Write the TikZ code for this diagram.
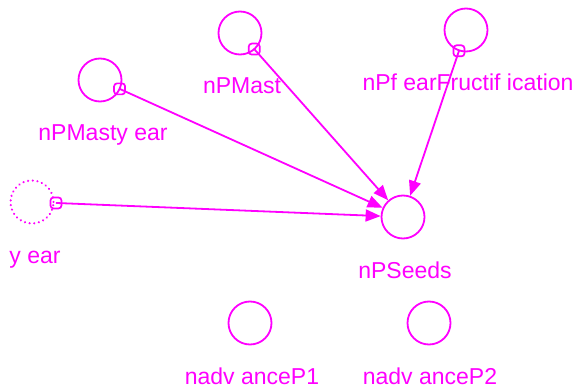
\documentclass[tikz,border=0pt]{standalone}
\usepackage{fontspec}
\setmainfont{Liberation Sans}
\usepackage{xcolor}
\definecolor{simmagenta}{RGB}{255,0,255}
\usetikzlibrary{arrows.meta, calc}

\begin{document}
\begin{tikzpicture}[x=1pt, y=-1pt,
  stock/.style={circle, draw=simmagenta, line width=1.8pt, minimum size=43pt, inner sep=0pt},
  ghost/.style={stock, dash pattern=on 0.1pt off 4.6pt, line cap=round, line width=2.3pt},
  lbl/.style={text=simmagenta, font=\fontsize{23}{27}\selectfont, anchor=base, inner sep=0pt},
  tap/.style={rectangle, draw=simmagenta, line width=1.7pt, rounded corners=3pt,
              minimum size=11pt, inner sep=0pt},
  flow/.style={draw=simmagenta, line width=1.8pt, -{Triangle[length=15pt, width=12pt]}}]
  \useasboundingbox (0,0) rectangle (578,390);

  % Variables
  \node[stock] (mast)     at (240,33)  {};
  \node[stock] (mastyear) at (100,80)  {};
  \node[stock] (fearfr)   at (466,30)  {};
  \node[ghost] (year)     at (32,202)  {};
  \node[stock] (seeds)    at (403,217) {};
  \node[stock] (advP1)    at (250,323) {};
  \node[stock] (advP2)    at (429,323) {};

  % Labels
  \node[lbl] (mastL)     at ([xshift=2pt,yshift=-61pt]mast.center)     {nPMast};
  \node[lbl] (mastyearL) at ([xshift=3pt,yshift=-61pt]mastyear.center) {nPMasty ear};
  \node[lbl] (fearfrL)   at ([xshift=2pt,yshift=-61pt]fearfr.center)   {nPf earFructif ication};
  \node[lbl] (yearL)     at ([xshift=3pt,yshift=-61pt]year.center)     {y ear};
  \node[lbl] (seedsL)    at ([xshift=2pt,yshift=-61pt]seeds.center)    {nPSeeds};
  \node[lbl] (advP1L)    at ([xshift=2pt,yshift=-61pt]advP1.center)    {nadv anceP1};
  \node[lbl] (advP2L)    at ([xshift=1pt,yshift=-61pt]advP2.center)    {nadv anceP2};

  % Taps on the source circles
  \node[tap] (tapM)  at ($(mast)!21.5pt!(seeds)$)     {};
  \node[tap] (tapMY) at ($(mastyear)!21.5pt!(seeds)$) {};
  \node[tap] (tapF)  at ($(fearfr)!22pt!(seeds)$)     {};
  \node[tap] (tapY)  at ($(year)!24pt!(seeds)$)       {};

  % Links into nPSeeds
  \draw[flow] (tapM.center)  -- (seeds);
  \draw[flow] (tapMY.center) -- (seeds);
  \draw[flow] (tapF.center)  -- (seeds);
  \draw[flow] (tapY.center)  -- (seeds);
\end{tikzpicture}
\end{document}
